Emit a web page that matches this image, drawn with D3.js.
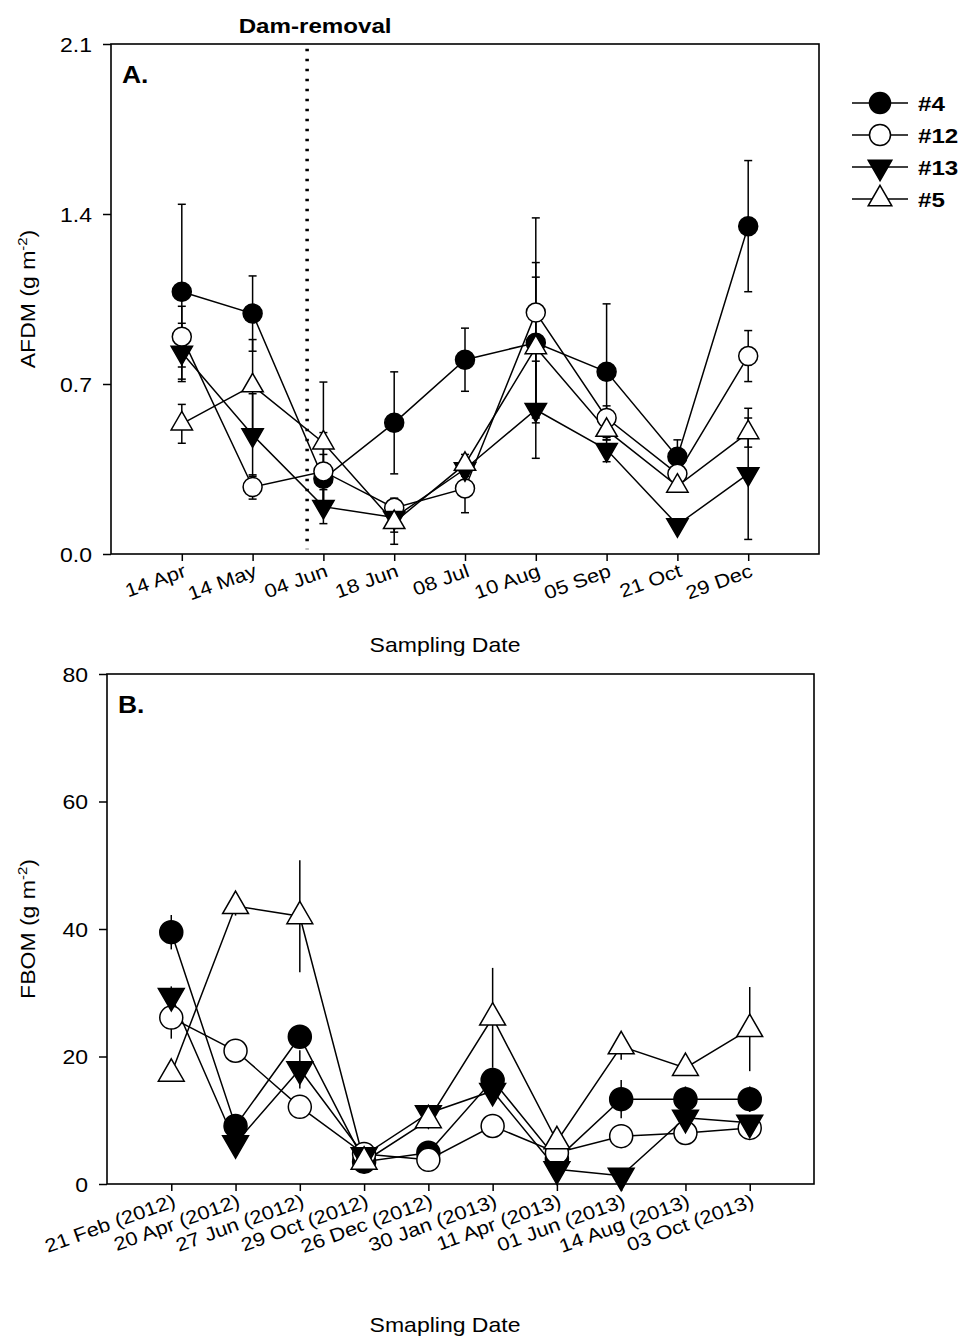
<!DOCTYPE html>
<html>
<head>
<meta charset="utf-8">
<script src="https://cdn.jsdelivr.net/npm/d3@7"></script>
<style>
  body { margin: 0; background: #fff; }
  text { font-family: "Liberation Sans", Arial, sans-serif; fill: #000; }
</style>
</head>
<body>
<svg id="chart" width="963" height="1338"></svg>
<script>
const seriesNames = ["#4", "#12", "#13", "#5"];

// Panel A: AFDM (g m-2), mean and SE per sampling date
const datesA = ["14 Apr", "14 May", "04 Jun", "18 Jun", "08 Jul", "10 Aug", "05 Sep", "21 Oct", "29 Dec"];
const afdm4    = [1.08, 0.99, 0.31, 0.54, 0.80, 0.87, 0.75, 0.40, 1.35];
const afdm4Se  = [0.36, 0.155, 0.10, 0.21, 0.13, 0.33, 0.28, 0.07, 0.27];
const afdm12   = [0.895, 0.276, 0.34, 0.19, 0.27, 0.994, 0.56, 0.33, 0.815];
const afdm12Se = [0.125, 0.05, 0.16, 0.04, 0.10, 0.39, 0.05, 0.03, 0.105];
const afdm13   = [0.83, 0.49, 0.195, 0.15, 0.35, 0.594, 0.43, 0.12, 0.33];
const afdm13Se = [0.12, 0.17, 0.07, 0.06, 0.03, 0.20, 0.05, 0.01, 0.27];
const afdm5    = [0.536, 0.693, 0.458, 0.13, 0.37, 0.85, 0.51, 0.28, 0.50];
const afdm5Se  = [0.08, 0.19, 0.25, 0.09, 0.04, 0.29, 0.04, 0.02, 0.06];
const afdmTicks = [0, 0.7, 1.4, 2.1];
const damRemovalIndex = 1.77; // between 14 May and 04 Jun

// Panel B: FBOM (g m-2)
const datesB = ["21 Feb (2012)", "20 Apr (2012)", "27 Jun (2012)", "29 Oct (2012)", "26 Dec (2012)",
                "30 Jan (2013)", "11 Apr (2013)", "01 Jun (2013)", "14 Aug (2013)", "03 Oct (2013)"];
const fbom4    = [39.5, 9.1, 23.1, 3.5, 4.9, 16.3, 3.9, 13.3, 13.3, 13.3];
const fbom4Se  = [2.7, 1.0, 1.5, 0.5, 0.5, 2.0, 1.0, 3.0, 2.0, 2.0];
const fbom12   = [26.1, 20.9, 12.1, 4.7, 3.8, 9.1, 4.9, 7.5, 8.0, 8.8];
const fbom12Se = [3.3, 1.7, 1.5, 0.5, 0.5, 1.0, 0.5, 1.5, 1.0, 1.5];
const fbom13   = [29.5, 6.4, 18.0, 4.5, 11.1, 14.6, 2.3, 1.3, 10.4, 9.6];
const fbom13Se = [1.5, 0.5, 3.0, 0.5, 0.5, 1.0, 0.5, 0.5, 1.5, 1.0];
const fbom5    = [17.3, 43.6, 42.0, 3.5, 10.0, 26.1, 6.7, 21.6, 18.2, 24.3];
const fbom5Se  = [0.5, 1.5, 8.8, 0.5, 0.5, 7.8, 1.5, 2.1, 1.0, 6.6];
const fbomTicks = [0, 20, 40, 60, 80];

const STRETCH = "scale(1.15,1)"; // the original lettering is a little wider than Arial

const svg = d3.select("#chart");

const markerStyle = {
  "#4":  {shape: d3.symbolCircle,   fill: "#000", rotate: 0},
  "#12": {shape: d3.symbolCircle,   fill: "#fff", rotate: 0},
  "#13": {shape: d3.symbolTriangle, fill: "#000", rotate: 180},
  "#5":  {shape: d3.symbolTriangle, fill: "#fff", rotate: 0}
};

function symbolSize(name, r) {
  // r: circle radius; triangles get a side of about 2.25 r
  if (markerStyle[name].shape === d3.symbolCircle) return Math.PI * r * r;
  const side = 2.25 * r;
  return Math.sqrt(3) / 4 * side * side;
}

function drawMarker(g, name, x, y, r) {
  const st = markerStyle[name];
  g.append("path")
    .attr("d", d3.symbol().type(st.shape).size(symbolSize(name, r))())
    .attr("transform", `translate(${x},${y}) rotate(${st.rotate})`)
    .attr("fill", st.fill)
    .attr("stroke", "#000")
    .attr("stroke-width", 1.5);
}

function drawPanel(p) {
  const g = svg.append("g");
  const x = d3.scaleLinear().domain([-1, p.dates.length]).range([p.left, p.right]);
  const y = d3.scaleLinear().domain(p.yDomain).range([p.bottom, p.top]);

  // frame
  g.append("rect")
    .attr("x", p.left).attr("y", p.top)
    .attr("width", p.right - p.left).attr("height", p.bottom - p.top)
    .attr("fill", "none").attr("stroke", "#000").attr("stroke-width", 1.6);

  // y axis
  const ya = g.append("g")
    .attr("transform", `translate(${p.left},0)`)
    .call(d3.axisLeft(y).tickValues(p.yTicks).tickSize(8).tickSizeOuter(0).tickFormat(p.yFormat));
  ya.select(".domain").remove();
  ya.selectAll("line").attr("stroke-width", 1.5);
  ya.selectAll("text")
    .attr("font-size", 20)
    .attr("x", 0).attr("dy", "0.36em")
    .attr("transform", `translate(-19,0) ${STRETCH}`);

  // x axis
  const xa = g.append("g")
    .attr("transform", `translate(0,${p.bottom})`)
    .call(d3.axisBottom(x).tickValues(d3.range(p.dates.length)).tickSize(7).tickSizeOuter(0)
      .tickFormat(i => p.dates[i]));
  xa.select(".domain").remove();
  xa.selectAll("line").attr("stroke-width", 1.5);
  xa.selectAll("text")
    .attr("font-size", 19)
    .attr("x", 0).attr("y", 0).attr("dy", 0)
    .style("text-anchor", "end")
    .attr("transform", `translate(5,${p.labelDrop}) rotate(${p.labelAngle}) ${STRETCH}`);

  // error bars
  p.series.forEach(s => {
    s.values.forEach((v, i) => {
      const lo = Math.max(p.yDomain[0], v - s.se[i]);
      const hi = Math.min(p.yDomain[1], v + s.se[i]);
      g.append("line")
        .attr("x1", x(i)).attr("x2", x(i))
        .attr("y1", y(lo)).attr("y2", y(hi))
        .attr("stroke", "#000").attr("stroke-width", 1.5);
      if (p.caps) {
        [lo, hi].forEach(c => {
          g.append("line")
            .attr("x1", x(i) - 4).attr("x2", x(i) + 4)
            .attr("y1", y(c)).attr("y2", y(c))
            .attr("stroke", "#000").attr("stroke-width", 1.5);
        });
      }
    });
  });

  // lines + markers, series by series
  const line = d3.line().x((d, i) => x(i)).y(d => y(d));
  p.series.forEach(s => {
    g.append("path")
      .attr("d", line(s.values))
      .attr("fill", "none").attr("stroke", "#000").attr("stroke-width", 1.5);
  });
  p.series.forEach(s => {
    s.values.forEach((v, i) => drawMarker(g, s.name, x(i), y(v), p.markerR));
  });

  // panel letter
  g.append("text")
    .attr("transform", `translate(${p.left + 11},${p.top + 39}) ${STRETCH}`)
    .attr("font-size", 23).attr("font-weight", "bold")
    .text(p.letter);

  // axis titles
  g.append("text")
    .attr("transform", `translate(445,${p.xTitleY}) ${STRETCH}`)
    .attr("text-anchor", "middle").attr("font-size", 20)
    .text(p.xTitle);

  const yt = g.append("text")
    .attr("transform", `translate(35,${(p.top + p.bottom) / 2}) rotate(-90) ${STRETCH}`)
    .attr("text-anchor", "middle").attr("font-size", 20);
  yt.append("tspan").text(p.yTitle + " (g m");
  yt.append("tspan").attr("font-size", 13).attr("dy", -8).text("-2");
  yt.append("tspan").attr("dy", 8).text(")");

  return {g, x, y};
}

const panelA = drawPanel({
  dates: datesA, yDomain: [0, 2.1], yTicks: afdmTicks, yFormat: d3.format(".1f"),
  left: 111, right: 819, top: 44, bottom: 554,
  labelDrop: 22, labelAngle: -20, caps: true, markerR: 9.5,
  letter: "A.", xTitle: "Sampling Date", xTitleY: 652, yTitle: "AFDM",
  series: [
    {name: "#4",  values: afdm4,  se: afdm4Se},
    {name: "#12", values: afdm12, se: afdm12Se},
    {name: "#13", values: afdm13, se: afdm13Se},
    {name: "#5",  values: afdm5,  se: afdm5Se}
  ]
});

const panelB = drawPanel({
  dates: datesB, yDomain: [0, 80], yTicks: fbomTicks, yFormat: d3.format("d"),
  left: 107, right: 814, top: 674, bottom: 1184,
  labelDrop: 22, labelAngle: -20, caps: false, markerR: 11.5,
  letter: "B.", xTitle: "Smapling Date", xTitleY: 1332, yTitle: "FBOM",
  series: [
    {name: "#4",  values: fbom4,  se: fbom4Se},
    {name: "#12", values: fbom12, se: fbom12Se},
    {name: "#13", values: fbom13, se: fbom13Se},
    {name: "#5",  values: fbom5,  se: fbom5Se}
  ]
});

// dam removal marker on panel A
panelA.g.append("line")
  .attr("x1", panelA.x(damRemovalIndex)).attr("x2", panelA.x(damRemovalIndex))
  .attr("y1", panelA.y(2.08)).attr("y2", panelA.y(0.02))
  .attr("stroke", "#000").attr("stroke-width", 3.5)
  .attr("stroke-dasharray", "2.5,7.5");

panelA.g.append("text")
  .attr("transform", `translate(${panelA.x(damRemovalIndex) + 8},33) ${STRETCH}`)
  .attr("text-anchor", "middle").attr("font-size", 21).attr("font-weight", "bold")
  .text("Dam-removal");

// legend
const legend = svg.append("g").attr("transform", "translate(852,103)");
seriesNames.forEach((name, i) => {
  const row = legend.append("g").attr("transform", `translate(0,${i * 32})`);
  row.append("line").attr("x1", 0).attr("x2", 56).attr("y1", 0).attr("y2", 0)
    .attr("stroke", "#000").attr("stroke-width", 1.5);
  drawMarker(row, name, 28, 0, 10.5);
  row.append("text")
    .attr("transform", `translate(66,0) ${STRETCH}`)
    .attr("dy", "0.36em")
    .attr("font-size", 21).attr("font-weight", "bold")
    .text(name);
});
</script>
</body>
</html>
